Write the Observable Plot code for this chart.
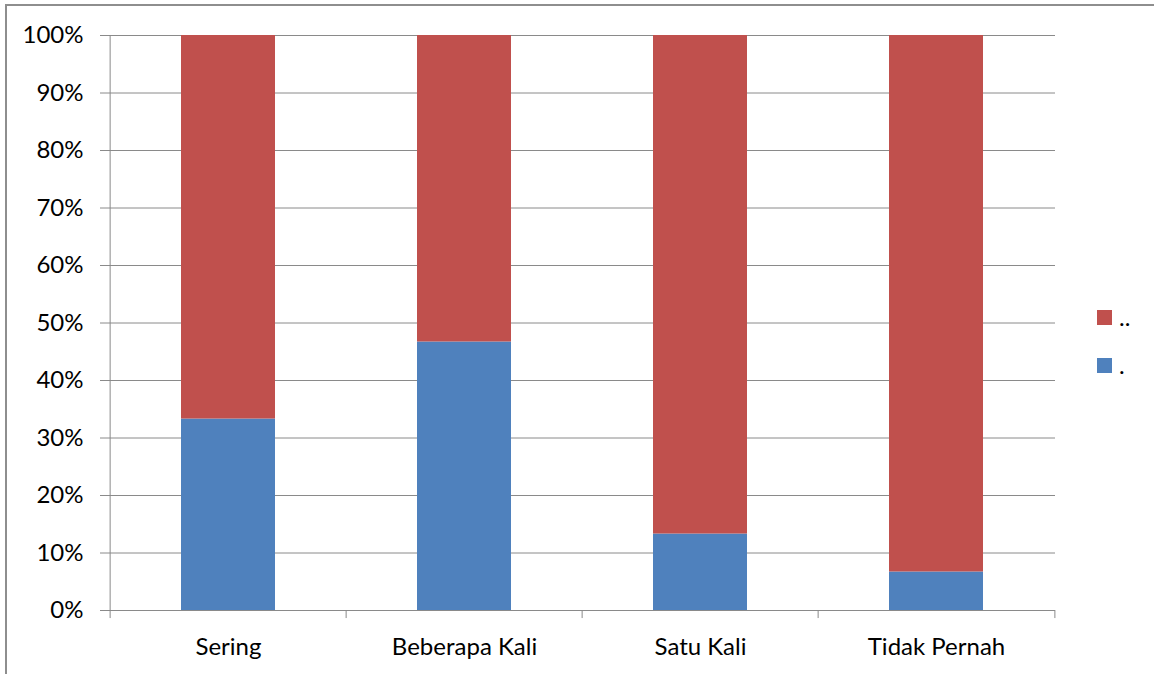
<!DOCTYPE html>
<html>
<head>
<meta charset="utf-8">
<script src="https://cdn.jsdelivr.net/npm/d3@7"></script>
<script src="https://cdn.jsdelivr.net/npm/@observablehq/plot@0.6"></script>
<style>
  html, body { margin: 0; padding: 0; background: #fff; }
  #wrap { position: relative; width: 1154px; height: 674px; overflow: hidden; background: #fff; font-family: Lato, "Open Sans", sans-serif; }
  #border { position: absolute; left: 5px; top: 4px; width: 1300px; height: 900px; border: 2px solid #8e8e8e; box-sizing: border-box; pointer-events: none; }
  #chart { position: absolute; left: 0; top: 0; }
  .lg-sw { position: absolute; width: 15px; height: 15px; }
  .lg-tx { position: absolute; font-size: 24px; line-height: 24px; color: #000; }
</style>
</head>
<body>
<div id="wrap">
  <div id="border"></div>
  <div id="chart"></div>
  <div id="legend"></div>
</div>
<script>
const categories = ["Sering", "Beberapa Kali", "Satu Kali", "Tidak Pernah"];
const seriesNames = [".", ".."];
const seriesColors = ["#4f81bd", "#c0504d"];
const blueValues = [33.3, 46.7, 13.3, 6.7];
const redValues = [66.7, 53.3, 86.7, 93.3];
const yTicks = [0, 10, 20, 30, 40, 50, 60, 70, 80, 90, 100];

const data = categories.flatMap((c, i) => [
  {cat: c, series: seriesNames[0], value: blueValues[i]},
  {cat: c, series: seriesNames[1], value: redValues[i]}
]);

const W = 1154, H = 674, mL = 108, mR = 99, mT = 35, mB = 64;
const bw = (W - mL - mR) / categories.length;
const gridColor = "#8a8a8a";
const FS = 24;

const chart = Plot.plot({
  width: W, height: H,
  marginLeft: mL, marginRight: mR, marginTop: mT, marginBottom: mB,
  style: {fontFamily: "Lato, 'Open Sans', sans-serif", fontSize: FS + "px", color: "#000", background: "transparent", overflow: "visible"},
  x: {domain: categories, padding: 0, label: null},
  y: {domain: [0, 100], label: null},
  color: {domain: seriesNames, range: seriesColors},
  marks: [
    Plot.gridY(yTicks, {stroke: gridColor, strokeOpacity: 1, strokeWidth: 1}),
    Plot.axisY(yTicks, {tickSize: 8, tickPadding: 17, tickFormat: d => d + "%", stroke: gridColor, strokeOpacity: 1, fill: "#000", label: null, fontSize: FS}),
    Plot.barY(data, Plot.stackY({x: "cat", y: "value", fill: "series", order: seriesNames, insetLeft: 71, insetRight: 71})),
    Plot.ruleY([0], {stroke: gridColor, strokeWidth: 1}),
    Plot.ruleX([categories[0]], {x: d => d, dx: -bw / 2, y1: 0, y2: 100, stroke: gridColor}),
    Plot.ruleX(categories, {x: d => d, dx: -bw / 2, y1: 0, y2: -1.4, stroke: gridColor}),
    Plot.ruleX([categories[categories.length - 1]], {x: d => d, dx: bw / 2, y1: 0, y2: -1.4, stroke: gridColor}),
    Plot.axisX({tickSize: 0, tickPadding: 27, fill: "#000", label: null, fontSize: FS})
  ]
});
document.getElementById("chart").appendChild(chart);

// legend (Excel lists stacked series in reverse order)
const legend = document.getElementById("legend");
const legendItems = [
  {name: seriesNames[1], color: seriesColors[1], top: 310},
  {name: seriesNames[0], color: seriesColors[0], top: 358}
];
for (const it of legendItems) {
  const sw = document.createElement("div");
  sw.className = "lg-sw";
  sw.style.left = "1097px";
  sw.style.top = it.top + "px";
  sw.style.background = it.color;
  legend.appendChild(sw);
  const tx = document.createElement("div");
  tx.className = "lg-tx";
  tx.style.left = "1119px";
  tx.style.top = (it.top - 5) + "px";
  tx.textContent = it.name;
  legend.appendChild(tx);
}
</script>
</body>
</html>
